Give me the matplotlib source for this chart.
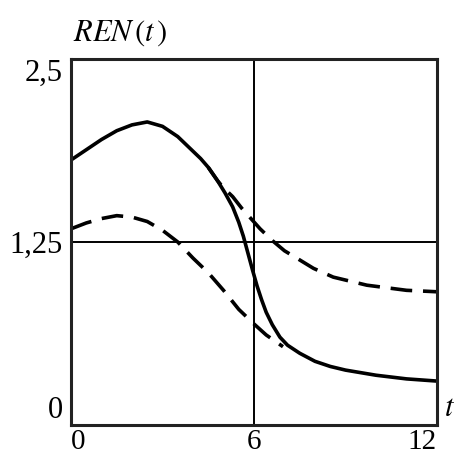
import matplotlib
matplotlib.use("Agg")
import numpy as np
from matplotlib import pyplot as plt

# значения
t_solid = [0, 0.5, 1.0, 1.5, 2.0, 2.5, 3.0, 3.5, 4.0, 4.25, 4.5, 4.8, 5.05,
           5.3, 5.5, 5.65, 5.8, 5.95, 6.1, 6.25, 6.4, 6.6, 6.85, 7.1, 7.5,
           8.0, 8.5, 9.0, 10.0, 11.0, 12.0]
ren_solid = [1.81, 1.88, 1.95, 2.01, 2.05, 2.07, 2.04, 1.97, 1.87, 1.82, 1.76,
             1.67, 1.585, 1.49, 1.385, 1.29, 1.175, 1.06, 0.95, 0.855, 0.77,
             0.685, 0.60, 0.545, 0.49, 0.435, 0.40, 0.375, 0.34, 0.315, 0.30]

t_upper = [4.5, 4.8, 5.0, 5.3, 5.6, 5.9, 6.2, 6.6, 7.0, 7.4, 7.95, 8.6, 9.7,
           11.0, 12.0]
ren_upper = [1.76, 1.67, 1.62, 1.56, 1.48, 1.41, 1.34, 1.26, 1.19, 1.14, 1.07,
             1.01, 0.955, 0.92, 0.91]

t_lower = [0, 0.5, 1.0, 1.5, 2.0, 2.5, 3.0, 3.5, 4.0, 4.5, 5.0, 5.5, 6.0,
           6.4, 6.95]
ren_lower = [1.34, 1.38, 1.41, 1.43, 1.42, 1.39, 1.33, 1.25, 1.14, 1.04,
             0.92, 0.79, 0.69, 0.615, 0.535]

x_ticks = [0, 6, 12]
y_ticks = [0, 1.25, 2.5]
y_tick_labels = ["0", "1,25", "2,5"]

plt.rcParams["font.family"] = ["Liberation Serif", "DejaVu Serif"]
plt.rcParams["mathtext.fontset"] = "stix"

fig = plt.figure(figsize=(4.54, 4.55), dpi=100)
ax = fig.add_axes([71 / 454, 30 / 455, 366 / 454, 366 / 455])

ax.plot(t_solid, ren_solid, color="black", lw=2.6, solid_joinstyle="round")
ax.plot(t_upper, ren_upper, color="black", lw=2.6, dashes=(6, 3))
ax.plot(t_lower, ren_lower, color="black", lw=2.6, dashes=(6, 3))

ax.axvline(6, color="black", lw=1.4, zorder=1)
ax.axhline(1.25, color="black", lw=1.4, zorder=1)

ax.set_xlim(0, 12)
ax.set_ylim(0, 2.5)
for s in ax.spines.values():
    s.set_linewidth(2.2)
    s.set_color("#222222")

ax.set_xticks(x_ticks)
ax.set_xticklabels([str(v) for v in x_ticks], fontsize=21)
ax.set_yticks(y_ticks)
ax.set_yticklabels(y_tick_labels, fontsize=22)
ax.tick_params(length=0, pad=6)
ax.tick_params(axis="x", pad=3)

xl = ax.get_xticklabels()
xl[0].set_ha("left")
xl[-1].set_ha("right")
yl = ax.get_yticklabels()
yl[0].set_va("bottom")
yl[-1].set_va("top")

ax.text(1.02, 0.045, r"$t$", transform=ax.transAxes, fontsize=22,
        ha="left", va="center")
ax.text(0.005, 1.03, r"$REN\,(t\,)$", transform=ax.transAxes,
        fontsize=22, ha="left", va="bottom")

plt.savefig("out.png", dpi=100)
plt.close()
